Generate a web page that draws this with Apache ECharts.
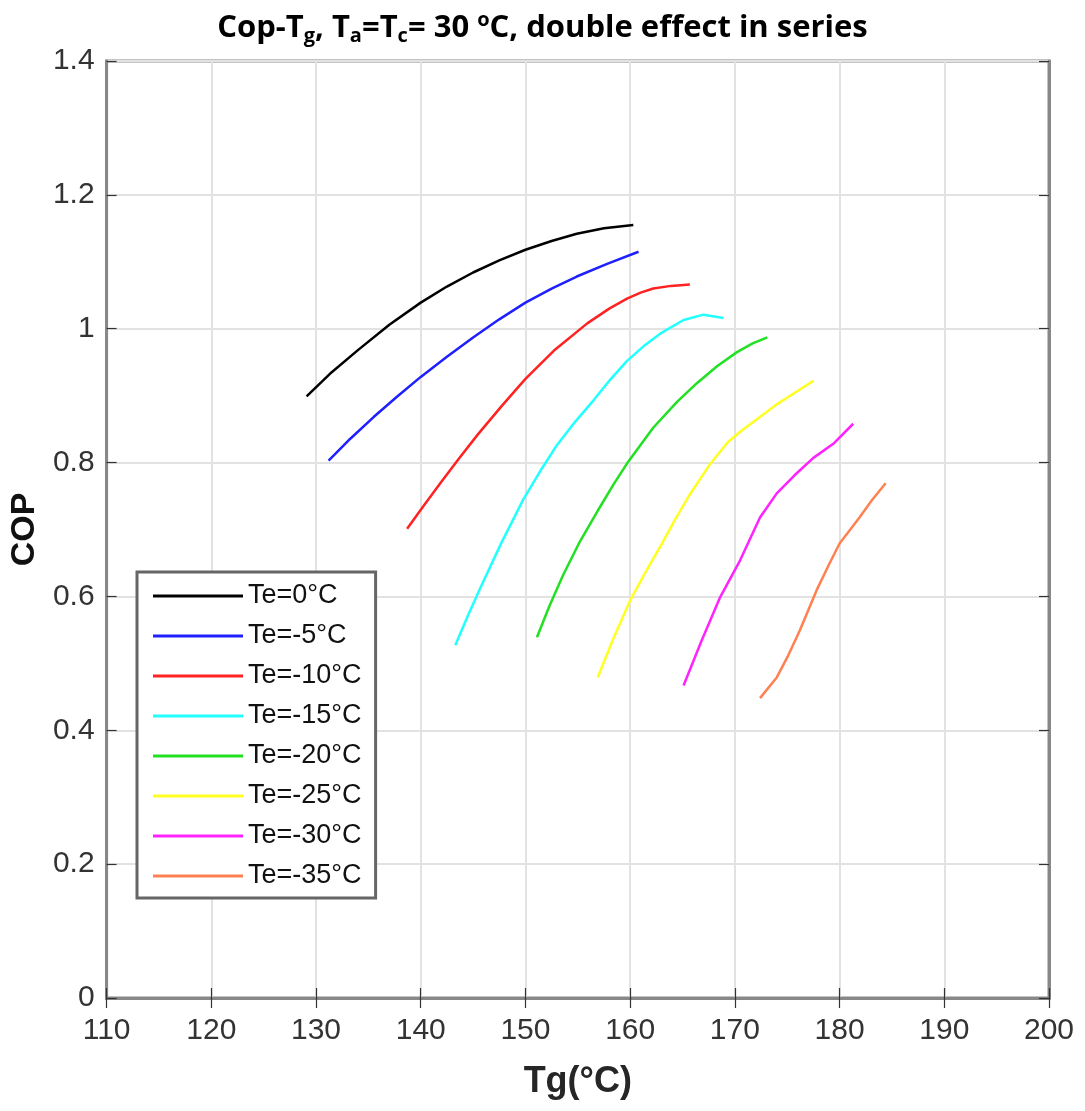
<!DOCTYPE html>
<html><head><meta charset="utf-8">
<script src="https://cdn.jsdelivr.net/npm/echarts@6/dist/echarts.min.js"></script>
<style>html,body{margin:0;padding:0;background:#fff}#c{width:1085px;height:1111px}</style>
</head><body><div id="c"></div>
<script>
const names = ['Te=0°C','Te=-5°C','Te=-10°C','Te=-15°C','Te=-20°C','Te=-25°C','Te=-30°C','Te=-35°C'];
const colors = ['#000000','#1f1fff','#ff2222','#22ffff','#22e022','#ffff22','#ff22ff','#ff8050'];
const te0 = [[129.1,0.899],[131.5,0.935],[134.0,0.968],[137.0,1.006],[140.0,1.039],[142.5,1.063],[145.0,1.084],[147.5,1.102],[150.0,1.118],[152.5,1.131],[154.9,1.142],[157.5,1.150],[160.3,1.155]];
const te5 = [[131.2,0.803],[133.3,0.836],[135.5,0.868],[137.7,0.898],[140.0,0.928],[142.5,0.958],[145.0,0.987],[147.5,1.014],[150.0,1.039],[152.5,1.060],[154.9,1.078],[157.8,1.097],[160.8,1.115]];
const te10 = [[138.7,0.701],[140.3,0.736],[141.9,0.770],[143.6,0.805],[145.4,0.841],[147.7,0.884],[150.0,0.925],[152.7,0.967],[155.9,1.008],[158.0,1.030],[159.7,1.045],[161.0,1.054],[162.2,1.060],[163.9,1.064],[165.7,1.066]];
const te15 = [[143.3,0.527],[144.5,0.571],[145.7,0.613],[147.7,0.680],[149.8,0.745],[151.4,0.787],[153.0,0.826],[154.8,0.862],[156.5,0.893],[158.1,0.924],[159.7,0.952],[161.3,0.974],[162.9,0.993],[165.1,1.013],[167.0,1.021],[168.9,1.016]];
const te20 = [[151.1,0.539],[152.3,0.586],[153.6,0.632],[155.2,0.682],[156.9,0.728],[158.4,0.767],[159.8,0.801],[162.2,0.852],[164.5,0.891],[166.4,0.919],[168.3,0.944],[170.2,0.965],[171.7,0.978],[173.1,0.987]];
const te25 = [[156.9,0.479],[158.4,0.537],[160.0,0.594],[161.5,0.637],[163.0,0.678],[164.3,0.715],[165.6,0.750],[167.6,0.797],[169.3,0.830],[170.5,0.846],[172.2,0.866],[174.0,0.887],[175.8,0.905],[177.5,0.922]];
const te30 = [[165.1,0.467],[166.8,0.533],[168.6,0.599],[170.5,0.654],[172.4,0.718],[174.0,0.754],[175.7,0.781],[177.5,0.807],[179.4,0.828],[181.3,0.858]];
const te35 = [[172.4,0.448],[174.0,0.479],[175.1,0.512],[176.2,0.549],[177.8,0.609],[179.0,0.648],[180.0,0.679],[181.9,0.718],[183.1,0.744],[184.4,0.769]];
const seriesData = [te0,te5,te10,te15,te20,te25,te30,te35];
const xTicks = [110,120,130,140,150,160,170,180,190,200];
const yTicks = [0,0.2,0.4,0.6,0.8,1,1.2,1.4];

const chart = echarts.init(document.getElementById('c'));
const tickFont = {fontFamily:'Liberation Sans, Arial, sans-serif', fontSize:30, color:'#333'};
const axisCommon = {
  axisLine:{show:true,onZero:false,lineStyle:{color:'#888',width:3}},
  axisTick:{show:true,inside:true,length:10,lineStyle:{color:'#333',width:1.2}},
  splitLine:{show:true,lineStyle:{color:'#e2e2e2',width:2}}
};
const tf = 'Open Sans, Liberation Sans, sans-serif';
chart.setOption({
  backgroundColor:'#fff',
  animation:false,
  title:{
    text:'Cop-T{sub|g}, T{sub|a}=T{sub|c}= 30 {sup|o}C, double effect in series',
    left:'center', top:5,
    textStyle:{fontFamily:tf,fontWeight:'bold',fontSize:31,color:'#000',
      rich:{
        sub:{fontFamily:tf,fontWeight:'bold',fontSize:20,color:'#000',verticalAlign:'bottom',padding:[16,0,0,0]},
        sup:{fontFamily:tf,fontWeight:'bold',fontSize:20,color:'#000',verticalAlign:'top',padding:[0,0,14,0]}
      }}
  },
  grid:{left:106,right:36,top:61,bottom:113,show:true,borderColor:'#888',borderWidth:3,backgroundColor:'#fff'},
  legend:{
    data:names, orient:'vertical', left:137, top:572,
    backgroundColor:'#fff', borderColor:'#666', borderWidth:3,
    padding:[10,14,8,16], itemWidth:90, itemHeight:3, itemGap:12, icon:'rect',
    textStyle:{fontFamily:'Liberation Sans, Arial, sans-serif',fontSize:27,lineHeight:28,color:'#111'}
  },
  xAxis:[Object.assign({
    type:'value', min:110, max:200, interval:10,
    name:'Tg(°C)', nameLocation:'middle', nameGap:66,
    nameTextStyle:{fontFamily:'Liberation Sans, Arial, sans-serif',fontWeight:'bold',fontSize:36,color:'#262626'},
    axisLabel:Object.assign({margin:18},tickFont)
  },axisCommon),{
    type:'value', min:110, max:200, interval:10, position:'top',
    axisLine:{show:true,lineStyle:{color:'#888',width:3}},
    axisTick:{show:true,inside:true,length:10,lineStyle:{color:'#333',width:1.2}},
    axisLabel:{show:false}, splitLine:{show:false}
  }],
  yAxis:[Object.assign({
    type:'value', min:0, max:1.4, interval:0.2,
    name:'COP', nameLocation:'middle', nameGap:62, nameRotate:90,
    nameTextStyle:{fontFamily:'Liberation Sans, Arial, sans-serif',fontWeight:'bold',fontSize:34,color:'#111'},
    axisLabel:Object.assign({margin:12,formatter:v=>String(+v.toFixed(1))},tickFont)
  },axisCommon),{
    type:'value', min:0, max:1.4, interval:0.2, position:'right',
    axisLine:{show:true,lineStyle:{color:'#888',width:3}},
    axisTick:{show:true,inside:true,length:10,lineStyle:{color:'#333',width:1.2}},
    axisLabel:{show:false}, splitLine:{show:false}
  }],
  series: seriesData.map((d,i)=>({
    name:names[i], type:'line', data:d, symbol:'none', showSymbol:false, smooth:false,
    lineStyle:{color:colors[i],width:2.5}, itemStyle:{color:colors[i]}
  }))
});
</script></body></html>
